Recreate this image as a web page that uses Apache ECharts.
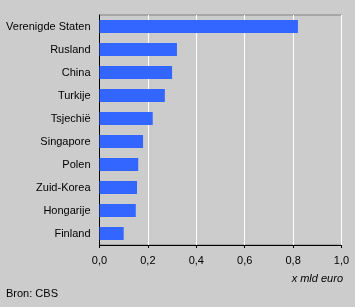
<!DOCTYPE html>
<html><head><meta charset="utf-8">
<script src="https://cdn.jsdelivr.net/npm/echarts@6/dist/echarts.min.js"></script>
<style>html,body{margin:0;padding:0;background:#cccccc;}#c{width:355px;height:307px;}</style>
</head><body><div id="c"></div>
<script>
var categories = ["Verenigde Staten","Rusland","China","Turkije","Tsjechië","Singapore","Polen","Zuid-Korea","Hongarije","Finland"];
var values = [0.82,0.32,0.30,0.27,0.22,0.18,0.16,0.155,0.15,0.10];
var xTicks = [0,0.2,0.4,0.6,0.8,1.0];
var unitLabel = "x mld euro";
var sourceLabel = "Bron: CBS";

var chart = echarts.init(document.getElementById('c'), null, {renderer:'canvas'});
var font = 'Arial, "Liberation Sans", sans-serif';
chart.setOption({
  backgroundColor:'#cccccc',
  animation:false,
  textStyle:{fontFamily:font},
  grid:{left:99.5,right:13.5,top:15,bottom:62,show:true,borderColor:'#808080',borderWidth:1,backgroundColor:'transparent',containLabel:false},
  xAxis:{type:'value',min:0,max:1,interval:0.2,
    axisLine:{show:true,lineStyle:{color:'#000',width:1}},
    axisTick:{show:true,length:3,lineStyle:{color:'#000'}},
    splitLine:{show:true,lineStyle:{color:'#ffffff',width:1}},
    axisLabel:{color:'#000',fontSize:11,fontFamily:font,margin:10,
      formatter:function(v){ for (var i=0;i<xTicks.length;i++){ if (Math.abs(xTicks[i]-v)<1e-9) return xTicks[i].toFixed(1).replace('.',','); } return ''; }}
  },
  yAxis:{type:'category',data:categories,inverse:true,
    axisLine:{show:true,lineStyle:{color:'#000',width:1}},
    axisTick:{show:false},
    splitLine:{show:false},
    axisLabel:{color:'#000',fontSize:11,fontFamily:font,margin:9}
  },
  series:[{type:'bar',data:values,barWidth:13,itemStyle:{color:'#3366ff'},silent:true}],
  graphic:[
    {type:'text',right:12,top:273,style:{text:unitLabel,font:'italic 11px '+font,fill:'#000'}},
    {type:'text',left:6,top:288,style:{text:sourceLabel,font:'11px '+font,fill:'#000'}}
  ]
});
</script></body></html>
